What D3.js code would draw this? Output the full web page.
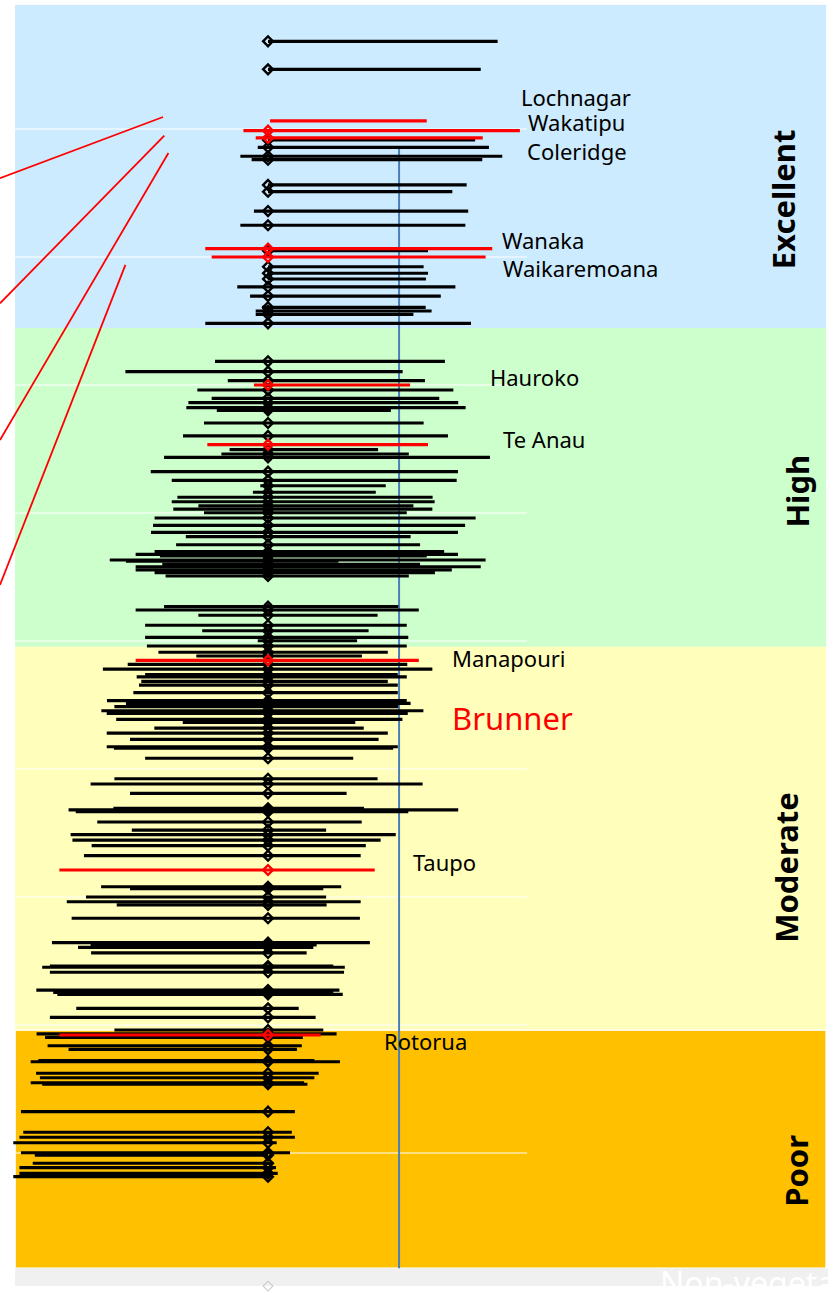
<!DOCTYPE html>
<html><head><meta charset="utf-8">
<script src="https://cdn.jsdelivr.net/npm/d3@7"></script>
<style>html,body{margin:0;padding:0;background:#fff;} svg{display:block;}</style>
</head><body><svg id="c" width="836" height="1292"></svg>
<script>
// ---- DATA ----
// condition bands (LakeSPI %)
const bandNames  = ["Excellent", "High", "Moderate", "Poor", "Non-vegetated"];
const bandLow    = [74.45, 49.55, 19.6, 1.0, -0.4];
const bandHigh   = [99.7, 74.45, 49.55, 19.6, 1.0];
const bandColors = ["#CCEBFF", "#CCFFCC", "#FFFFBB", "#FFC000", "#F0F0F0"];
const bandLabelScore = [84.5, 61.7, 32.3, 8.6];

// all other lakes: score, lower offset, upper offset
const scores = [96.85,94.66,89.14,88.57,87.87,87.60,85.63,85.10,83.59,82.48,80.49,79.24,78.73,78.28,77.66,76.95,76.07,75.78,75.52,74.82,
71.85,71.04,70.34,69.61,68.96,68.62,68.23,68.02,67.03,66.02,64.95,64.61,64.35,63.23,62.55,62.13,61.62,61.23,60.88,60.55,60.31,60.02,59.61,59.04,58.49,58.15,57.52,56.98,56.77,56.64,56.33,56.23,55.99,55.80,55.55,55.34,55.08,
52.68,52.42,52.01,51.23,50.80,50.29,50.02,49.61,49.12,48.83,48.18,47.81,47.37,47.19,46.85,46.56,45.96,45.34,45.13,44.87,44.55,44.35,43.88,43.65,43.20,42.81,42.32,41.74,41.62,40.84,
39.24,38.83,38.10,36.93,36.80,36.66,35.86,35.23,34.87,34.45,34.01,33.23,30.80,30.65,30.00,29.63,29.38,28.34,26.43,26.25,26.07,25.63,24.61,24.51,24.12,22.73,22.55,22.40,21.30,20.60,19.61,
19.30,19.04,18.38,18.10,17.21,17.13,16.23,15.88,15.49,15.37,13.23,11.62,11.23,10.80,10.02,9.84,9.20,8.85,8.41,8.15];
const lows = [0,0,0,-4.0,-10.8,-6.4,0,0,-5.5,-10.8,0,0,0,0,-12.0,-7.0,-2.3,-4.8,-4.8,-24.5,
-20.7,-55.7,-15.7,-27.6,-22.0,-31.1,-31.9,-20.0,-25.0,-33.2,-15.0,-18.2,-40.6,-45.8,-37.6,-3.0,-5.9,-35.4,-37.6,-27.2,-37.0,-25.0,-44.3,-44.9,-45.7,-32.1,-35.9,-44.3,-51.7,-42.2,-61.8,-55.5,-41.3,-51.7,-51.7,-44.3,-40.0,
-40.6,-51.7,-27.2,-48.0,-25.7,-48.0,-4.0,-47.3,-42.8,-28.0,-54.8,-64.5,-48.0,-51.3,-49.5,-50.4,-52.6,-62.9,-55.5,-60.0,-65.1,-63.0,-59.3,-33.3,-44.4,-63.0,-53.9,-63.0,-60.2,-48.0,
-60.0,-69.3,-53.9,-60.4,-77.9,-75.1,-66.7,-53.2,-77.1,-76.4,-68.9,-71.9,-65.2,-53.9,-71.1,-78.6,-59.1,-76.7,-84.4,-69.3,-74.2,-69.1,-85.2,-88.2,-85.2,-90.5,-83.9,-82.3,-74.9,-85.2,-60.0,
-90.4,-87.1,-86.1,-77.9,-89.7,-92.7,-90.6,-89.1,-92.7,-88.2,-96.5,-95.6,-97.1,-99.5,-96.5,-91.1,-91.9,-97.1,-97.1,-99.5];
const highs = [89.7,83.1,80.9,86.3,91.5,83.7,77.6,72.0,78.2,77.1,62.5,60.8,62.5,61.7,73.2,67.5,61.6,63.9,56.8,79.3,
69.1,52.6,61.3,72.4,66.9,74.3,77.2,48.0,60.8,70.3,43.0,55.0,86.7,74.2,73.7,46.0,42.1,64.3,65.1,56.8,64.2,54.2,81.1,77.0,74.2,55.7,59.4,68.8,74.2,62.0,85.0,27.5,59.4,83.1,71.8,65.2,55.0,
50.9,58.9,42.8,54.2,39.3,54.8,34.8,54.2,46.8,36.7,54.4,64.2,50.7,54.2,46.8,50.7,50.7,54.2,55.7,50.9,60.7,54.6,52.5,34.1,37.4,46.8,43.2,50.7,48.9,33.3,
42.8,60.4,30.7,37.5,74.3,54.8,36.6,22.7,49.9,44.0,38.2,36.2,28.6,21.6,22.7,36.2,22.9,35.9,39.8,19.0,17.7,15.1,25.5,30.0,29.7,27.9,25.5,29.2,12.0,18.6,21.6,
26.8,13.6,13.2,11.3,18.1,28.1,19.8,18.1,14.1,15.4,10.5,9.3,10.5,3.4,8.6,0,2.1,3.1,3.8,0.8];
const nonVegScore = -0.4;

// highlighted (named) lakes
const refNames  = ["Lochnagar","Wakatipu","Coleridge","Wanaka","Waikaremoana","Hauroko","Te Anau","Manapouri","Taupo","Rotorua"];
const refScores = [90.63, 89.87, 89.30, 80.65, 80.00, 70.00, 65.34, 48.49, 32.11, 19.22];
const refLows   = [0.8, -9.6, -4.8, -24.5, -22.0, -5.5, -23.7, -51.7, -81.5, -81.5];
const refHighs  = [62.0, 98.4, 83.9, 87.6, 85.0, 55.5, 62.5, 58.9, 41.7, 20.6];
const refNoMarker = ["Lochnagar"];

// lake name labels (x offset units, score units)
const labelNames  = ["Lochnagar","Wakatipu","Coleridge","Wanaka","Waikaremoana","Hauroko","Te Anau","Manapouri","Brunner","Taupo","Rotorua"];
const labelX      = [98.8, 101.6, 101.2, 91.4, 91.8, 86.7, 91.8, 71.9, 71.9, 56.6, 45.3];
const labelScore  = [91.80, 89.88, 87.58, 80.63, 78.44, 69.92, 65.08, 47.97, 43.05, 32.03, 18.05];

// threshold line
const thresholdX = 51.2, thresholdTop = 88.6;
const gridValues = [10,20,30,40,50,60,70,80,90];

// leader lines (x units, score units)
const leaderFrom = [[-41.0,90.94],[-40.5,89.48],[-38.9,88.13],[-55.7,79.38]];
const leaderTo   = [[-104.7,86.15],[-104.7,76.38],[-104.7,65.70],[-104.7,54.38]];

// ---- CHART ----
const svg = d3.select("#c");
const x = d3.scaleLinear().domain([-100, 100]).range([12, 524]);
const y = d3.scaleLinear().domain([0, 100]).range([1281, 1]);
const xMin = -98.8, xMax = 218.0, gridMax = 101.2;

svg.append("rect").attr("width",836).attr("height",1292).attr("fill","#fff");

// bands
svg.append("g").selectAll("rect").data(bandNames).join("rect")
  .attr("x", x(xMin)).attr("width", (d,i)=> x(xMax) + (i===4?2:0) - x(xMin))
  .attr("y", (d,i)=>y(bandHigh[i])).attr("height",(d,i)=>y(bandLow[i])-y(bandHigh[i]))
  .attr("fill",(d,i)=>bandColors[i])
  .attr("stroke",(d,i)=> i===3 ? "#fff" : "none").attr("stroke-width",1.5);

// gridlines
svg.append("g").selectAll("line").data(gridValues).join("line")
  .attr("x1", x(xMin)).attr("x2", x(gridMax))
  .attr("y1", d=>y(d)).attr("y2", d=>y(d))
  .attr("stroke","#fff").attr("stroke-width",1.2);

// threshold line
svg.append("line").attr("x1",x(thresholdX)).attr("x2",x(thresholdX))
  .attr("y1",y(thresholdTop)).attr("y2",y(bandLow[3]))
  .attr("stroke","#4A7EBB").attr("stroke-width",2);

// leader lines
svg.append("g").selectAll("line").data(leaderFrom).join("line")
  .attr("x1",d=>x(d[0])).attr("y1",d=>y(d[1]))
  .attr("x2",(d,i)=>x(leaderTo[i][0])).attr("y2",(d,i)=>y(leaderTo[i][1]))
  .attr("stroke","#FF0000").attr("stroke-width",1.8);

const rows = scores.map((s,i)=>({s, lo:lows[i], hi:highs[i]}));
const refs = refScores.map((s,i)=>({s, lo:refLows[i], hi:refHighs[i], name:refNames[i]}));
const diamond = d3.symbol(d3.symbolSquare, 48);

function drawBars(data, color){
  svg.append("g").selectAll("line").data(data).join("line")
    .attr("x1",d=>x(d.lo)).attr("x2",d=>x(d.hi))
    .attr("y1",d=>y(d.s)).attr("y2",d=>y(d.s))
    .attr("stroke",color).attr("stroke-width",3.2);
}
function drawMarkers(data, color, w){
  svg.append("g").selectAll("path").data(data).join("path")
    .attr("d", diamond)
    .attr("transform", d=>`translate(${x(0)},${y(d.s)}) rotate(45)`)
    .attr("fill","none").attr("stroke",color).attr("stroke-width",w);
}
drawBars(rows, "#000");
drawMarkers(rows, "#000", 2.4);
drawBars(refs, "#FF0000");
drawMarkers(refs.filter(d=>!refNoMarker.includes(d.name)), "#FF0000", 2.4);
drawMarkers([{s:nonVegScore}], "#C8C8C8", 1);

// lake labels
svg.append("g").selectAll("text").data(labelNames).join("text")
  .attr("x",(d,i)=>x(labelX[i])).attr("y",(d,i)=>y(labelScore[i]))
  .attr("font-family","'Noto Sans', 'Open Sans', sans-serif")
  .attr("font-size",d=> d==="Brunner" ? 31 : 22)
  .attr("fill",d=> d==="Brunner" ? "#FF0000" : "#000")
  .text(d=>d);

// band labels
const bandLabelX = [795, 809, 798, 808];
svg.append("g").selectAll("text").data(bandNames.slice(0,4)).join("text")
  .attr("transform",(d,i)=>`translate(${bandLabelX[i]},${y(bandLabelScore[i])}) rotate(-90)`)
  .attr("text-anchor","middle")
  .attr("font-family","'Noto Sans', 'Open Sans', sans-serif")
  .attr("font-weight","bold").attr("font-size",31).attr("fill","#000")
  .text(d=>d);

svg.append("text").attr("x",660).attr("y",1295)
  .attr("font-family","'Noto Sans', 'Open Sans', sans-serif")
  .attr("font-size",32).attr("fill","#fff").text(bandNames[4]);
</script></body></html>
